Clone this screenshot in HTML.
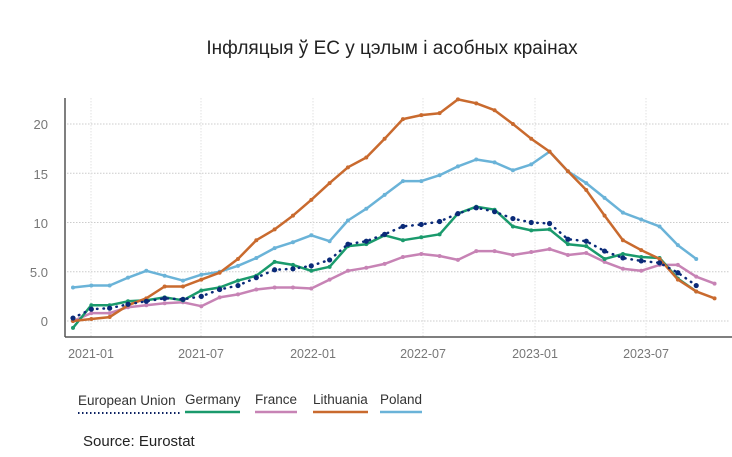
<!DOCTYPE html>
<html><head><meta charset="utf-8"><style>
body{margin:0;background:#fff;width:732px;height:452px;overflow:hidden;font-family:"Liberation Sans","DejaVu Sans",sans-serif}
</style></head><body>
<svg id="c" width="732" height="452" xmlns="http://www.w3.org/2000/svg">
<text x="392" y="54" text-anchor="middle" font-size="19" fill="#222" font-family="Liberation Sans, DejaVu Sans, sans-serif">Інфляцыя ў ЕС у цэлым і асобных краінах</text>
<g id="grid"></g>
<line x1="65" y1="98" x2="65" y2="337" stroke="#555" stroke-width="1.5"/>
<line x1="65" y1="337" x2="732" y2="337" stroke="#555" stroke-width="1.5"/>
<g font-size="13" fill="#777" text-anchor="end">
<text x="48" y="129">20</text><text x="48" y="179">15</text><text x="48" y="228">10</text><text x="48" y="277">5.0</text><text x="48" y="326">0</text>
</g>
<g font-size="12.5" fill="#777" text-anchor="middle">
<text x="91" y="358">2021-01</text><text x="201" y="358">2021-07</text><text x="313" y="358">2022-01</text><text x="423" y="358">2022-07</text><text x="535" y="358">2023-01</text><text x="646" y="358">2023-07</text>
</g>
<g id="series"></g>
<g font-size="13.5" fill="#333">
<text x="78" y="405">European Union</text><text x="185" y="404">Germany</text><text x="255" y="404">France</text><text x="313" y="404">Lithuania</text><text x="380" y="404">Poland</text>
</g>
<line x1="78" y1="413" x2="180" y2="413" stroke="#0a2060" stroke-width="2" stroke-dasharray="1.5 2.5"/>
<line x1="185" y1="412" x2="240" y2="412" stroke="#1a9a6c" stroke-width="2.5"/>
<line x1="255" y1="412" x2="297" y2="412" stroke="#c783b5" stroke-width="2.5"/>
<line x1="313" y1="412" x2="368" y2="412" stroke="#c96a2e" stroke-width="2.5"/>
<line x1="380" y1="412" x2="422" y2="412" stroke="#6ab3d8" stroke-width="2.5"/>
<text x="83" y="446" font-size="15" fill="#222">Source: Eurostat</text>
</svg>
<script>
var NS="http://www.w3.org/2000/svg";
function el(p,t,a){var e=document.createElementNS(NS,t);for(var k in a)e.setAttribute(k,a[k]);p.appendChild(e);return e;}
var g=document.getElementById("grid");
[0,5,10,15,20].forEach(function(v){var y=321-9.85*v;el(g,"line",{x1:67,x2:730,y1:y,y2:y,stroke:"#ccc","stroke-dasharray":"1.5 1.5"});});
[91,201,313,423,535,646].forEach(function(x){el(g,"line",{x1:x,x2:x,y1:98,y2:337,stroke:"#e2e2e2","stroke-dasharray":"1.5 1.5"});});
function X(i){return 73+18.33*i;}function Y(v){return 321-9.85*v;}
var S=document.getElementById("series");
function draw(d,c,dash){var p=d.map(function(v,i){return X(i).toFixed(1)+","+Y(v).toFixed(1);}).join(" ");
 if(dash){el(S,"polyline",{points:p,fill:"none",stroke:c,"stroke-width":2.5,"stroke-dasharray":"0.5 6","stroke-linecap":"round"});
  d.forEach(function(v,i){el(S,"circle",{cx:X(i),cy:Y(v),r:2.6,fill:c});});}
 else{el(S,"polyline",{points:p,fill:"none",stroke:c,"stroke-width":2.5,"stroke-linejoin":"round"});
  d.forEach(function(v,i){el(S,"circle",{cx:X(i),cy:Y(v),r:2,fill:c});});}}
var PL=[3.4,3.6,3.6,4.4,5.1,4.6,4.1,4.7,5.0,5.6,6.4,7.4,8.0,8.7,8.1,10.2,11.4,12.8,14.2,14.2,14.8,15.7,16.4,16.1,15.3,15.9,17.2,15.2,14.0,12.5,11.0,10.3,9.6,7.7,6.3];
var FR=[0,0.8,0.8,1.4,1.6,1.8,1.9,1.5,2.4,2.7,3.2,3.4,3.4,3.3,4.2,5.1,5.4,5.8,6.5,6.8,6.6,6.2,7.1,7.1,6.7,7.0,7.3,6.7,6.9,6.0,5.3,5.1,5.7,5.7,4.5,3.8];
var DE=[-0.7,1.6,1.6,2.0,2.1,2.4,2.1,3.1,3.4,4.1,4.6,6.0,5.7,5.1,5.5,7.6,7.8,8.7,8.2,8.5,8.8,10.9,11.6,11.3,9.6,9.2,9.3,7.8,7.6,6.3,6.8,6.5,6.4,4.3,3.0];
var LT=[0,0.2,0.4,1.6,2.3,3.5,3.5,4.2,4.9,6.3,8.2,9.3,10.7,12.3,14.0,15.6,16.6,18.5,20.5,20.9,21.1,22.5,22.1,21.4,20.0,18.5,17.2,15.2,13.3,10.7,8.2,7.2,6.3,4.2,3.0,2.3];
var EU=[0.3,1.2,1.3,1.7,2.0,2.3,2.2,2.5,3.2,3.6,4.4,5.2,5.3,5.6,6.2,7.8,8.1,8.8,9.6,9.8,10.1,10.9,11.5,11.1,10.4,10.0,9.9,8.3,8.1,7.1,6.4,6.1,5.9,4.9,3.6];
draw(PL,"#6ab3d8");draw(FR,"#c783b5");draw(DE,"#1a9a6c");draw(LT,"#c96a2e");draw(EU,"#0a2a78",true);
</script>
</body></html>
